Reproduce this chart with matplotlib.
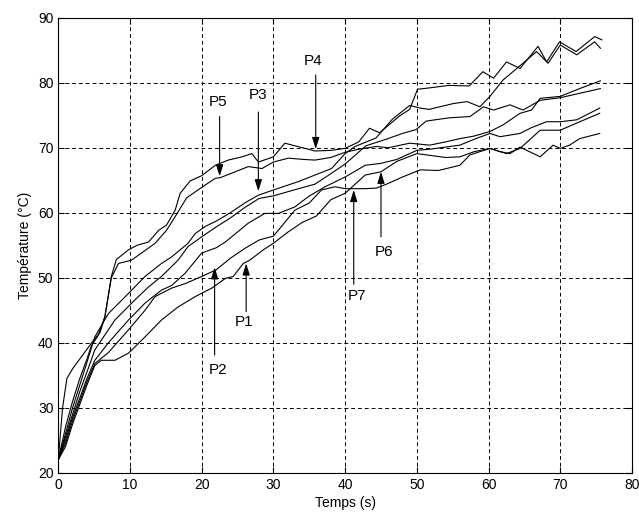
import matplotlib
matplotlib.use("Agg")
import matplotlib.pyplot as plt

plt.rcParams['font.family'] = ['Liberation Sans', 'DejaVu Sans']

# temperature curves (time in s, temperature in degC)
p4_t = [0, 0.6, 1.2, 2, 3, 4, 5, 5.8, 6.5, 7.4, 8.1, 9.8, 11, 12.6, 14, 15.1, 16.3, 17, 18.4, 20,
        21.9, 23.7, 25.6, 27, 27.9, 30, 31.6, 33, 35.8, 38.1, 40, 41.9, 43.4, 44.8, 46.2, 47.6, 49, 50.1,
        51.7, 54.5, 57.3, 59.2, 60.7, 62.5, 64.4, 66.9, 68.1, 69.9, 72.2, 74.8, 75.8]
p4_T = [22, 30, 34.5, 36, 37.5, 39, 40.5, 41.5, 44, 50.2, 52.8, 54.3, 55, 55.5, 57.3, 58.1, 60.4, 63, 64.9, 65.7,
        67.3, 68.1, 68.6, 69.1, 67.8, 68.6, 70.7, 70.3, 69.5, 69.6, 69.9, 70.9, 73, 72.3, 73.6, 74.9, 75.9, 79,
        79.2, 79.6, 79.5, 81.7, 80.7, 83.2, 82.2, 85.6, 83.2, 86.3, 84.8, 87.1, 86.6]

p5_t = [0, 1, 2, 3, 4, 4.6, 5.5, 6.5, 7.4, 8.4, 10.2, 11.6, 13.5, 15.1, 16.3, 17.9, 20, 21.9, 22.6, 24.9,
        26.5, 28.4, 30, 32.1, 34.2, 35.8, 38, 40, 42, 44.4, 46, 49, 51.8, 54, 56, 58, 60.2, 62, 64.4, 66,
        67.2, 70, 72.7, 75.6]
p5_T = [22, 27, 31, 34.5, 37.5, 39.5, 41, 44, 50, 52.2, 52.7, 53.8, 55.3, 57.3, 59.4, 62.3, 63.9, 65.3, 65.4, 66.4,
        67.1, 66.8, 67.8, 68.4, 68.2, 68.1, 68.5, 69.3, 69.8, 70.2, 70, 70.7, 70.4, 70.9, 71.4, 71.8, 72.5, 73.5, 75.3, 75.8,
        77.6, 77.9, 79.1, 80.3]

p3_t = [0, 1, 2, 3, 4, 5.1, 7, 9.8, 12.1, 14.4, 15.8, 18.1, 19.1, 20.5, 22, 24, 26, 27.9, 30, 33.5,
        35.8, 38.1, 40, 41.4, 44.3, 46.6, 49, 50.5, 51.7, 53.2, 55.1, 57, 58.8, 60.2, 62, 64.8, 66.7, 68.3,
        70, 72.3, 74.8, 75.6]
p3_T = [22, 26, 30, 33.5, 37, 40.9, 44.5, 47.6, 50.2, 52.2, 53.2, 55.3, 56.8, 57.9, 58.7, 60, 61.5, 62.7, 63.5, 64.8,
        65.8, 66.8, 69.1, 70.2, 71.5, 74.4, 76.5, 76.1, 75.9, 76.3, 76.8, 77.1, 76.3, 77.9, 80.4, 83, 84.8, 83,
        85.8, 84.3, 86.3, 85.3]

pd_t = [0, 1, 2, 3, 4, 5.1, 7.9, 10.7, 12.6, 14.4, 16.7, 18.1, 20, 22, 24, 26, 28, 30, 33.5, 35.8,
        38, 40, 42.9, 45.7, 48, 49.9, 51.3, 54.5, 57.4, 59.3, 60.7, 63, 64.8, 67.2, 70, 72.8, 75.6]
pd_T = [22, 25.5, 29, 32.5, 35.5, 38.9, 43.5, 46.6, 48.6, 50.2, 52.7, 54.8, 56.3, 57.8, 59.2, 60.8, 62.2, 62.6, 63.7, 64.4,
        66, 67.5, 70.3, 71.3, 72.2, 72.8, 74.1, 74.6, 74.8, 76.3, 75.8, 76.6, 75.8, 77.3, 77.7, 78.4, 79.1]

p2_t = [0, 1, 2, 3, 4, 5.1, 7, 9.8, 12.1, 14.4, 15.8, 17.7, 20, 22, 23.3, 26.5, 28.8, 30.7, 33, 34.9,
        37.2, 40, 42.8, 45, 47.2, 50, 52, 54, 56, 58, 60.2, 61.6, 64.4, 66, 68.1, 70, 72.3, 75.5]
p2_T = [22, 25, 28.5, 31.5, 34.5, 37.3, 40, 43.5, 46.1, 48.1, 48.8, 50.7, 53.8, 54.6, 55.5, 58.4, 59.9, 59.9, 60.9, 62.5,
        64, 65.5, 67.3, 67.6, 68.2, 69.6, 69.8, 70.1, 70.4, 71.3, 72.2, 71.7, 72.2, 73.1, 74, 74, 74.3, 76.1]

p1_t = [0, 1, 2, 3, 4, 5.1, 6, 7.9, 9.8, 12.1, 14.4, 16.7, 19.1, 21.4, 23.3, 24.4, 25.8, 26.7, 28.6, 30,
        32, 34, 36, 38, 40, 42.8, 45, 47.2, 50, 52, 54, 56, 58, 60.2, 62.5, 64.4, 67.2, 70, 72.3, 75.5]
p1_T = [22, 24, 27.5, 30.5, 33.5, 36.5, 37.3, 37.3, 38.4, 40.9, 43.5, 45.5, 47.1, 48.4, 49.9, 50.2, 52.2, 52.7, 54.3, 55.3,
        57, 58.5, 59.5, 62, 63, 65.8, 66.3, 67.9, 69.1, 68.8, 68.5, 68.6, 69.4, 69.9, 69.1, 69.9, 72.7, 72.7, 73.8, 75.3]

p7_t = [0, 1, 2, 3, 4, 5.1, 7, 9.8, 12.1, 13.5, 15.8, 17.7, 20, 22, 24, 26, 28, 30, 33, 35,
        36.7, 38.6, 40, 42.8, 44.4, 46, 48, 50.5, 53, 56, 57.4, 60.2, 61.6, 63, 64.4, 67.2, 69, 70, 71.3, 72.7, 75.5]
p7_T = [22, 24.5, 28, 31, 34, 36.8, 38.5, 42, 45, 47.1, 48.4, 49.1, 50.2, 51.2, 53, 54.5, 55.8, 56.4, 60.4, 61.5,
        63.5, 64, 63.7, 63.7, 63.8, 64.5, 65.5, 66.6, 66.5, 67.3, 68.9, 69.9, 69.4, 69.1, 70.1, 68.6, 70.4, 69.9, 70.4, 71.4, 72.2]

curves = [(p4_t, p4_T), (p5_t, p5_T), (p3_t, p3_T), (pd_t, pd_T),
          (p2_t, p2_T), (p1_t, p1_T), (p7_t, p7_T)]

# labels: name, text position, arrow tail, arrow tip
labels = ["P5", "P3", "P4", "P6", "P7", "P2", "P1"]
label_xy = [(22.3, 77.1), (27.8, 78.1), (35.5, 83.4), (45.4, 54.0), (41.7, 47.2), (22.3, 35.8), (25.9, 43.2)]
tails = [(22.5, 74.8), (27.9, 75.5), (35.9, 81.2), (45.0, 56.3), (41.2, 49.0), (21.8, 38.1), (26.2, 44.8)]
tips = [(22.5, 65.6), (27.9, 63.3), (35.9, 69.8), (45.0, 66.3), (41.2, 63.5), (21.8, 51.6), (26.2, 52.2)]

fig = plt.figure(figsize=(6.39, 5.22), dpi=100)
ax = fig.add_axes([0.0912, 0.0944, 0.8978, 0.8716])

for t, T in curves:
    ax.plot(t, T, color='black', lw=0.8)

for name, (lx, ly), tail, tip in zip(labels, label_xy, tails, tips):
    ax.annotate('', xy=tip, xytext=tail,
                arrowprops=dict(arrowstyle='-|>,head_length=0.7,head_width=0.22',
                                color='black', lw=0.8, shrinkA=0, shrinkB=0, mutation_scale=10))
    ax.text(lx, ly, name, ha='center', va='center', fontsize=11)

ax.set_xlim(0, 80)
ax.set_ylim(20, 90)
ax.set_xticks(range(0, 81, 10))
ax.set_yticks(range(20, 91, 10))
ax.grid(True, color='black', linestyle=(0, (4, 3)), lw=0.7)
ax.tick_params(direction='in', top=True, right=True, length=4, labelsize=10)
for s in ax.spines.values():
    s.set_linewidth(0.8)

ax.set_xlabel('Temps (s)', fontsize=10, labelpad=3)
ax.set_ylabel('Température (°C)', fontsize=10, labelpad=4)

fig.savefig('out.png', dpi=100)
